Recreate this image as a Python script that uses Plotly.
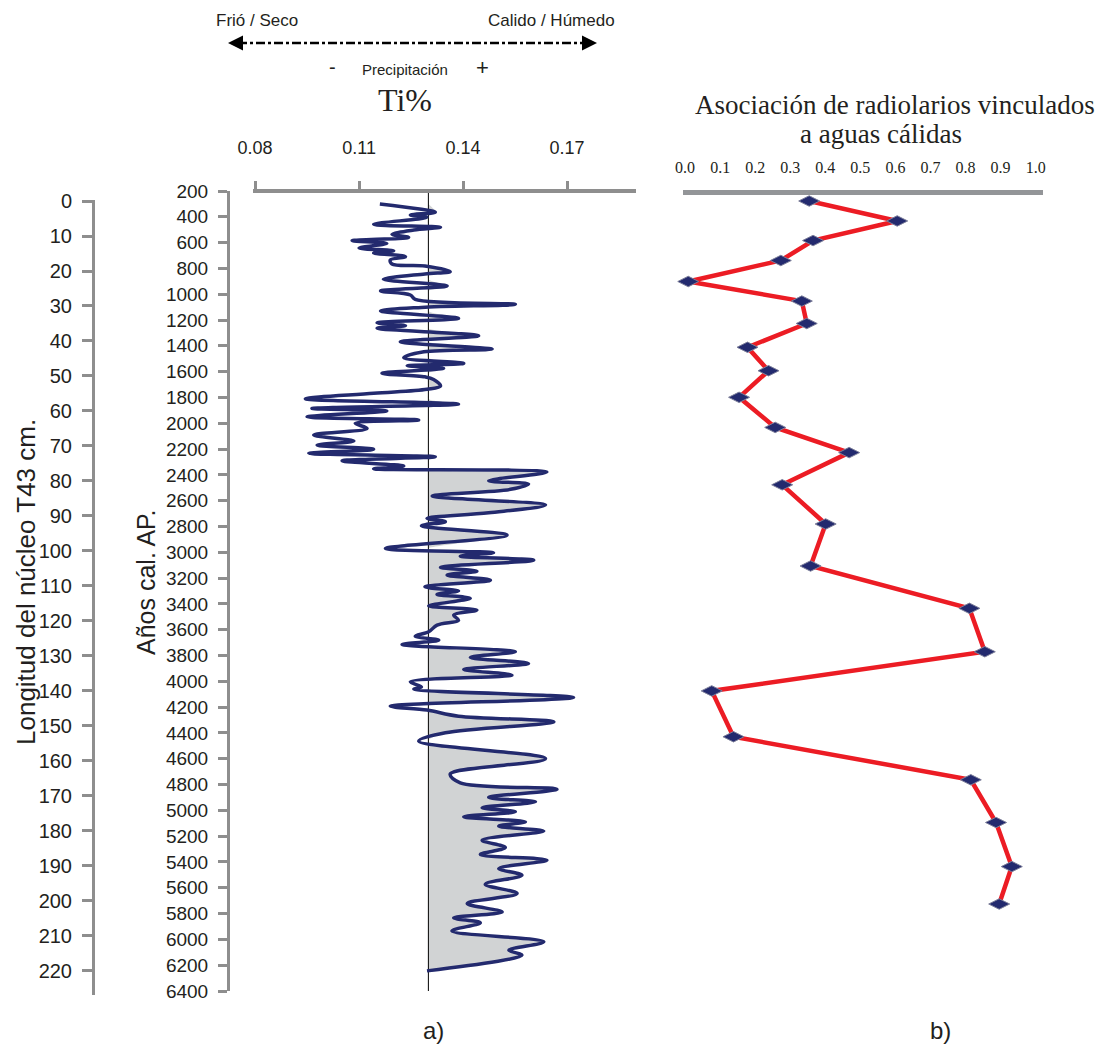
import numpy as np
import plotly.graph_objects as go

# ---------------- data ----------------
age_years = [301, 365, 386, 404, 458, 481, 502, 536, 559, 585, 606, 642, 663, 681, 709, 735, 766, 781, 825, 843,
             884, 936, 975, 1006, 1040, 1078, 1102, 1130, 1187, 1221, 1244, 1264, 1322, 1368, 1425, 1446, 1492,
             1536, 1554, 1574, 1613, 1640, 1660, 1711, 1737, 1768, 1810, 1851, 1885, 1905, 1950, 1975, 2001,
             2040, 2091, 2138, 2169, 2202, 2233, 2260, 2291, 2332, 2353, 2378, 2446, 2471, 2512, 2564, 2634,
             2694, 2737, 2763, 2794, 2867, 2970, 3004, 3030, 3061, 3117, 3146, 3177, 3216, 3268, 3299, 3326,
             3357, 3415, 3448, 3487, 3526, 3564, 3616, 3650, 3681, 3714, 3771, 3815, 3861, 3908, 3952, 4004,
             4043, 4060, 4125, 4192, 4223, 4270, 4314, 4399, 4464, 4600, 4719, 4787, 4836, 4900, 4934, 4980,
             5011, 5050, 5089, 5122, 5161, 5231, 5288, 5342, 5386, 5451, 5503, 5573, 5644, 5722, 5787, 5833,
             5872, 5934, 6019, 6084, 6122, 6244]
ti_percent = [0.116, 0.132, 0.1248, 0.1296, 0.1142, 0.1335, 0.1258, 0.1195, 0.1243, 0.108, 0.118, 0.110, 0.120,
              0.1142, 0.1234, 0.119, 0.1195, 0.129, 0.1363, 0.129, 0.117, 0.1354, 0.1162, 0.1248, 0.1262, 0.1551,
              0.128, 0.1162, 0.1387, 0.1152, 0.1234, 0.1152, 0.1445, 0.1219, 0.1484, 0.1287, 0.1229, 0.1402,
              0.1239, 0.1344, 0.1166, 0.129, 0.1315, 0.1335, 0.1296, 0.1142, 0.0945, 0.1387, 0.0964, 0.118,
              0.095, 0.1272, 0.1089, 0.1123, 0.0969, 0.1085, 0.0979, 0.1142, 0.0955, 0.132, 0.1051, 0.1229,
              0.1142, 0.1642, 0.1474, 0.1589, 0.1537, 0.1311, 0.1638, 0.1474, 0.1296, 0.1349, 0.128, 0.1527,
              0.1176, 0.1488, 0.1392, 0.1604, 0.1335, 0.144, 0.1354, 0.1479, 0.129, 0.1387, 0.1325, 0.1421,
              0.1301, 0.144, 0.1373, 0.1387, 0.1325, 0.1301, 0.1262, 0.133, 0.1224, 0.1551, 0.1421, 0.1589,
              0.1402, 0.1541, 0.1248, 0.128, 0.1258, 0.1719, 0.119, 0.1296, 0.1387, 0.1662, 0.1349, 0.1272,
              0.1638, 0.1363, 0.1392, 0.1671, 0.1474, 0.1609, 0.1455, 0.1551, 0.1402, 0.158, 0.1503, 0.1633,
              0.1455, 0.1522, 0.145, 0.1642, 0.1503, 0.157, 0.1464, 0.1556, 0.1412, 0.1513, 0.1373, 0.145,
              0.1368, 0.1633, 0.1532, 0.157, 0.1296]
ti_baseline = 0.13

rad_depth_cm = [0, 5.7, 11.3, 17.0, 23.0, 28.6, 35.0, 41.8, 48.5, 56.1, 64.7, 71.9, 81.1, 92.3, 104.3,
                116.4, 128.8, 140.0, 153.1, 165.4, 177.6, 190.2, 200.9]
rad_warm = [0.354, 0.605, 0.365, 0.273, 0.009, 0.333, 0.347, 0.178, 0.238, 0.154, 0.257, 0.468, 0.277,
            0.401, 0.358, 0.811, 0.855, 0.076, 0.138, 0.815, 0.887, 0.932, 0.896]

depth_ticks = list(range(0, 230, 10))
age_ticks = list(range(200, 6600, 200))
ti_ticks = [0.08, 0.11, 0.14, 0.17]
ti_tick_labels = ["0.08", "0.11", "0.14", "0.17"]
rad_ticks = [0.0, 0.1, 0.2, 0.3, 0.4, 0.5, 0.6, 0.7, 0.8, 0.9, 1.0]
rad_tick_labels = ["0.0", "0.1", "0.2", "0.3", "0.4", "0.5", "0.6", "0.7", "0.8", "0.9", "1.0"]

# ---------------- layout helpers ----------------
W, H = 1105, 1046
def px(x):
    return x / W
def py(y):
    return 1 - y / H

AXIS_GRAY = "#8e8e8e"
NAVY = "#232a6e"
RED = "#ec1c24"
FILL = "#d1d3d4"
TXT = "#231f20"
SANS = "Liberation Sans, Arial, sans-serif"
SERIF = "Liberation Serif, Times New Roman, serif"

ti = np.array(ti_percent)
ages = np.array(age_years)

fig = go.Figure()
fig.add_trace(go.Scatter(x=np.full(len(ages), ti_baseline), y=ages, mode="lines",
                         line=dict(width=0, shape="spline"), xaxis="x", yaxis="y2",
                         hoverinfo="skip", showlegend=False))
fig.add_trace(go.Scatter(x=np.maximum(ti, ti_baseline), y=ages, mode="lines", fill="tonextx",
                         fillcolor=FILL, line=dict(width=0, shape="spline"), xaxis="x", yaxis="y2",
                         hoverinfo="skip", showlegend=False))
fig.add_trace(go.Scatter(x=[ti_baseline, ti_baseline], y=[age_ticks[0], age_ticks[-1]], mode="lines",
                         line=dict(color="black", width=1), xaxis="x", yaxis="y2",
                         hoverinfo="skip", showlegend=False))
fig.add_trace(go.Scatter(x=ti, y=ages, mode="lines",
                         line=dict(color=NAVY, width=3.5, shape="spline", smoothing=1.0),
                         xaxis="x", yaxis="y2", showlegend=False))
fig.add_trace(go.Scatter(x=rad_warm, y=rad_depth_cm, mode="lines+markers",
                         line=dict(color=RED, width=4.5),
                         marker=dict(symbol="diamond-wide", size=15, color=NAVY,
                                     line=dict(color="#7d7f9a", width=1)),
                         xaxis="x3", yaxis="y", cliponaxis=False, showlegend=False))

fig.update_layout(
    width=W, height=H, autosize=False,
    margin=dict(l=0, r=0, t=0, b=0, pad=0, autoexpand=False),
    paper_bgcolor="white", plot_bgcolor="rgba(0,0,0,0)",
    showlegend=False,
    xaxis=dict(domain=[px(253), px(636)], range=[0.0794, 0.1899], anchor="free", position=py(191),
               side="top", showline=True, linecolor=AXIS_GRAY, linewidth=3.5,
               ticks="outside", ticklen=8, tickwidth=3, tickcolor=AXIS_GRAY,
               tickvals=ti_ticks, ticktext=ti_tick_labels, ticklabelstandoff=20,
               tickfont=dict(family=SANS, size=18, color=TXT), automargin=False,
               showgrid=False, zeroline=False),
    yaxis2=dict(domain=[py(991), py(191)], range=[6400, 200], anchor="free", position=px(228),
                side="left", showline=True, linecolor=AXIS_GRAY, linewidth=3,
                ticks="outside", ticklen=9, tickwidth=2.5, tickcolor=AXIS_GRAY,
                tickvals=age_ticks, ticklabelstandoff=6, automargin=False,
                tickfont=dict(family=SANS, size=19, color=TXT),
                showgrid=False, zeroline=False),
    yaxis=dict(domain=[py(995), py(200)], range=[226.9, -0.29], anchor="free", position=px(93),
               side="left", showline=True, linecolor=AXIS_GRAY, linewidth=3,
               ticks="outside", ticklen=10, tickwidth=2.5, tickcolor=AXIS_GRAY,
               tickvals=depth_ticks, ticklabelstandoff=6, automargin=False,
               tickfont=dict(family=SANS, size=20, color=TXT),
               showgrid=False, zeroline=False),
    xaxis3=dict(domain=[px(683), px(1043)], range=[-0.006, 1.021], anchor="free", position=py(192),
                side="top", showline=True, linecolor="#939598", linewidth=4.5,
                ticks="", tickvals=rad_ticks, ticktext=rad_tick_labels, ticklabelstandoff=11,
                tickfont=dict(family=SERIF, size=16, color=TXT), automargin=False,
                showgrid=False, zeroline=False),
)

def ann(text, x, y, size, family=SANS, angle=0, xanchor="center", color=TXT):
    fig.add_annotation(text=text, x=px(x), y=py(y), xref="paper", yref="paper",
                       showarrow=False, textangle=angle, xanchor=xanchor, yanchor="middle",
                       font=dict(family=family, size=size, color=color))

ann("Frió / Seco", 257, 20, 17)
ann("Calido / Húmedo", 551, 20, 17)
ann("-", 332, 67, 20)
ann("Precipitación", 405, 70, 15)
ann("+", 482, 68, 22)
ann("Ti%", 405, 100, 32, family=SERIF)
ann("Asociación de radiolarios vinculados", 693, 105, 27, family=SERIF, xanchor="left")
ann("a aguas cálidas", 881, 134, 27, family=SERIF)
ann("Longitud del núcleo T43 cm.", 26, 582, 26, angle=-90)
ann("Años cal. AP.", 146, 583, 25, angle=-90)
ann("a)", 433, 1030, 24)
ann("b)", 940, 1030, 24)

fig.add_shape(type="line", xref="paper", yref="paper", x0=px(238), x1=px(587), y0=py(43), y1=py(43),
              line=dict(color="black", width=2.5, dash="dashdot"))
for tip, off in ((228, 12), (597, -12)):
    fig.add_annotation(x=px(tip), y=py(43), xref="paper", yref="paper", ax=off, ay=0,
                       axref="pixel", ayref="pixel", text="", showarrow=True,
                       arrowhead=2, arrowsize=1.2, arrowwidth=2.5, arrowcolor="black")

fig.write_html("out.html", config={"displayModeBar": False},
               post_script="document.body.style.margin='0';document.body.style.overflow='hidden';")
